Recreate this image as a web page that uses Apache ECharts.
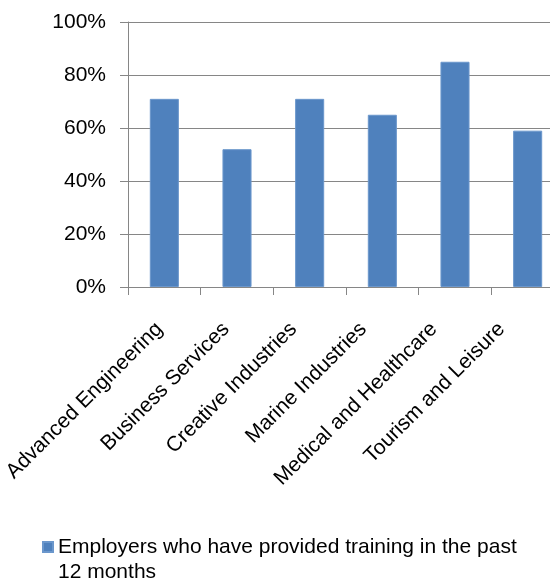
<!DOCTYPE html>
<html><head><meta charset="utf-8">
<script src="https://cdn.jsdelivr.net/npm/echarts@6/dist/echarts.min.js"></script>
<style>html,body{margin:0;padding:0;background:#fff;overflow:hidden}#c{width:564px;height:584px}</style>
</head><body><div id="c"></div>
<script>
const categories = ["Advanced Engineering","Business Services","Creative Industries","Marine Industries","Medical and Healthcare","Tourism and Leisure"];
const values = [71, 52, 71, 65, 85, 59];
const seriesName = "Employers who have provided training in the past 12 months";
const yTicks = [0, 20, 40, 60, 80, 100];

// horizontal label shift (px) to mimic the reference label placement
const labelShift = [5, 11, 16, 19, 21, 26];

const chart = echarts.init(document.getElementById('c'), null, {renderer:'canvas'});
const font = 'Liberation Sans';
const LABEL_SIZE = 21;
const catData = categories.map((c, i) => {
  const a = labelShift[i] / 1.414;
  return {value: c, textStyle: {padding: [0, a, 2 * a, 0]}};
});
chart.setOption({
  animation: false,
  grid: {left: 128, top: 22, right: 0, bottom: 297, containLabel: false},
  legend: {
    left: 37, top: 530, icon: 'path://M0,0H10V10H0Z M0,36L0.001,36', itemWidth: 10, itemHeight: 36, itemGap: 6,
    textStyle: {fontFamily: font, fontSize: 21, color: '#000', width: 486, overflow: 'break', lineHeight: 25},
    data: [seriesName]
  },
  xAxis: {
    type: 'category', data: catData,
    axisLine: {lineStyle: {color: '#868686', width: 1}},
    axisTick: {show: true, alignWithLabel: false, length: 8, lineStyle: {color: '#868686'}},
    axisLabel: {
      rotate: 45, interval: 0, margin: 39, fontFamily: font, fontSize: LABEL_SIZE, color: '#000',
      formatter: v => '{t|' + v + '}',
      rich: {t: {fontFamily: font, fontSize: LABEL_SIZE, color: '#000'}}
    }
  },
  yAxis: {
    type: 'value', min: yTicks[0], max: yTicks[yTicks.length-1], interval: 20,
    axisLine: {show: true, lineStyle: {color: '#868686'}},
    axisTick: {show: true, length: 8, lineStyle: {color: '#868686'}},
    splitLine: {lineStyle: {color: '#868686', width: 1}},
    axisLabel: {formatter: v => v + '%', fontFamily: font, fontSize: 21, color: '#000', margin: 22}
  },
  series: [{
    name: seriesName, type: 'bar', data: values, barWidth: '40%',
    itemStyle: {color: '#4F81BD', borderColor: '#6b97cc', borderWidth: 1}
  }]
});
</script></body></html>
